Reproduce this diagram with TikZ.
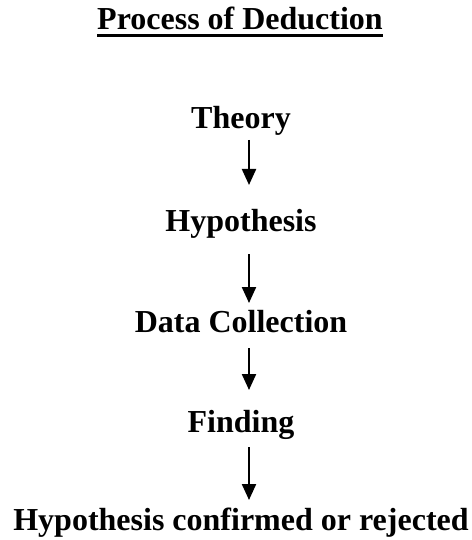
\documentclass[tikz,border=0pt]{standalone}
\usepackage{fontspec}
\setmainfont{Liberation Serif}
\usetikzlibrary{arrows.meta}
\begin{document}
\begin{tikzpicture}[x=1pt,y=1pt,
  lbl/.style={font=\fontsize{32}{38}\selectfont\bfseries, inner sep=0pt, anchor=base},
  arr/.style={line width=2.2pt, -{Triangle[width=14pt,length=16pt]}}]
\useasboundingbox (0,0) rectangle (471,-540);
\node[lbl] (t) at (240,-30) {Process of Deduction};
\draw[line width=2.5pt] ([yshift=-5.7pt]t.base west) -- ([yshift=-5.7pt]t.base east);
\node[lbl] (a) at (241,-129) {Theory};
\node[lbl] (b) at (241,-231) {Hypothesis};
\node[lbl] (c) at (241,-332) {Data Collection};
\node[lbl] (d) at (241,-432) {Finding};
\node[lbl] (e) at (241,-530) {Hypothesis confirmed or rejected};
\draw[arr] ([shift={(8,-11)}]a.base) -- ([shift={(8,46)}]b.base);
\draw[arr] ([shift={(8,-23)}]b.base) -- ([shift={(8,29)}]c.base);
\draw[arr] ([shift={(8,-16)}]c.base) -- ([shift={(8,42)}]d.base);
\draw[arr] ([shift={(8,-15)}]d.base) -- ([shift={(8,30)}]e.base);
\end{tikzpicture}
\end{document}
